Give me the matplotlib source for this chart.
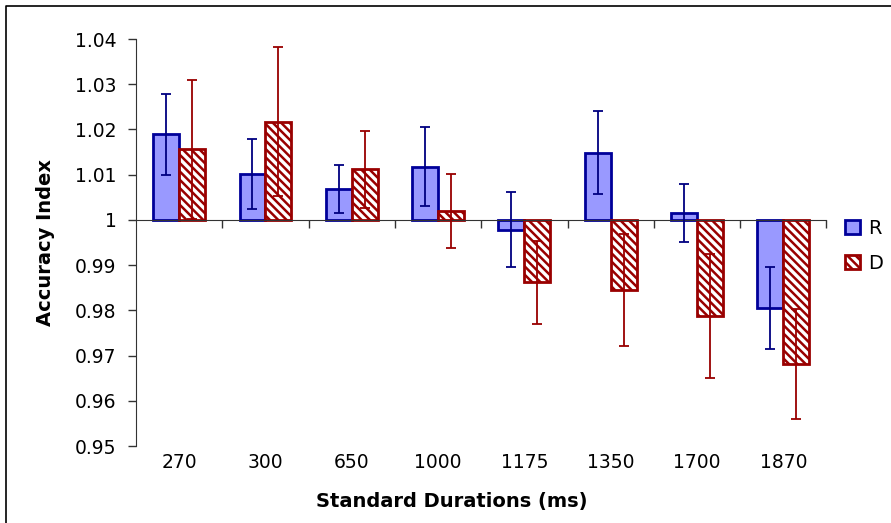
import matplotlib.pyplot as plt
import numpy as np
from matplotlib.lines import Line2D

plt.rcParams['font.family'] = ['DejaVu Sans']
plt.rcParams['hatch.linewidth'] = 1.8

# Accuracy index by standard duration, two groups (R, D) with error bars
durations = ["270", "300", "650", "1000", "1175", "1350", "1700", "1870"]
r_vals = [1.0189, 1.0102, 1.0068, 1.0118, 0.9978, 1.0149, 1.0015, 0.9805]
r_err = [0.0089, 0.0078, 0.0053, 0.0087, 0.0083, 0.0092, 0.0064, 0.0091]
d_vals = [1.0156, 1.0217, 1.0112, 1.0020, 0.9862, 0.9845, 0.9788, 0.9681]
d_err = [0.0154, 0.0165, 0.0085, 0.0082, 0.0092, 0.0123, 0.0137, 0.0121]
y_ticks = [0.95, 0.96, 0.97, 0.98, 0.99, 1.0, 1.01, 1.02, 1.03, 1.04]
y_labels = ["0.95", "0.96", "0.97", "0.98", "0.99", "1", "1.01", "1.02", "1.03", "1.04"]

fig = plt.figure(figsize=(8.91, 5.23), dpi=100)
ax = fig.add_axes([0.1526, 0.1472, 0.775, 0.7782])

x = np.arange(len(durations))
w = 0.3
r_height = np.array(r_vals) - 1
d_height = np.array(d_vals) - 1

ax.bar(x - w / 2, r_height, w, bottom=1, color="#9999FF", edgecolor="#000099",
       linewidth=2.0, label="R", zorder=2)
ax.bar(x + w / 2, d_height, w, bottom=1, color="white", edgecolor="#990000",
       hatch="\\\\\\\\", linewidth=2.0, label="D", zorder=2)

ax.errorbar(x - w / 2, r_vals, yerr=r_err, fmt="none", ecolor="#000080",
            elinewidth=1.3, capsize=3.8, capthick=1.3, zorder=3)
ax.errorbar(x + w / 2, d_vals, yerr=d_err, fmt="none", ecolor="#990000",
            elinewidth=1.3, capsize=3.8, capthick=1.3, zorder=3)

ax.set_xlim(-0.5, 7.5)
ax.set_ylim(0.95, 1.04)

# y axis
ax.set_yticks(y_ticks)
ax.set_yticklabels(y_labels)
ax.tick_params(axis="y", length=6, width=1, colors="#333333", labelcolor="black",
               labelsize=13.5, pad=8)

# category axis crosses at 1, labels stay at the bottom
ax.spines["top"].set_visible(False)
ax.spines["right"].set_visible(False)
ax.spines["left"].set_color("#333333")
ax.spines["bottom"].set_color("#333333")
ax.spines["bottom"].set_position(("data", 1.0))
ax.set_xticks(np.arange(0.5, 8, 1.0))
ax.set_xticklabels([])
ax.tick_params(axis="x", length=6, width=1, colors="#333333", direction="out")

sec = ax.secondary_xaxis(0.0)
sec.spines["bottom"].set_visible(False)
sec.set_xticks(x)
sec.set_xticklabels(durations)
sec.tick_params(length=0, labelsize=13.5, pad=5)

ax.set_ylabel("Accuracy Index", fontsize=14, fontweight="bold", labelpad=14)
fig.text(452 / 891, 1 - 502 / 523, "Standard Durations (ms)", fontsize=14,
         fontweight="bold", ha="center", va="center")

ax.legend(loc="center left", bbox_to_anchor=(0.94, 0.53), bbox_transform=fig.transFigure,
          frameon=False, fontsize=14, handlelength=0.75, handleheight=0.7,
          handletextpad=0.4, labelspacing=0.85, borderaxespad=0)

# outer chart frame (left and top edges visible)
x0 = 5.5 / 891
y1 = 1 - 5.5 / 523
fig.add_artist(Line2D([x0, x0, 1.0], [0.0, y1, y1], transform=fig.transFigure,
                      color="black", linewidth=1.2))

fig.savefig("out.png", dpi=100)
